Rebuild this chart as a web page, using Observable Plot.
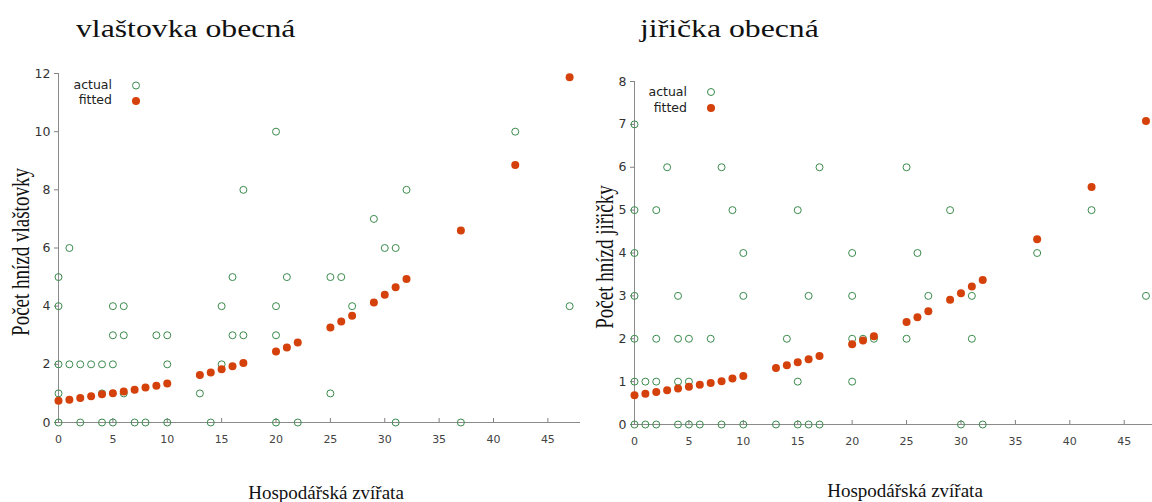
<!DOCTYPE html>
<html>
<head>
<meta charset="utf-8">
<script src="https://cdn.jsdelivr.net/npm/d3@7"></script>
<script src="https://cdn.jsdelivr.net/npm/@observablehq/plot@0.6"></script>
<style>
  html, body { margin: 0; padding: 0; background: #fff; }
  #root { position: relative; width: 1152px; height: 502px; overflow: hidden; background: #fff; }
  .abs { position: absolute; white-space: nowrap; }
  .title { font-family: "Liberation Serif", serif; font-size: 26px; line-height: 26px; color: #111; transform-origin: 0 0; transform: scaleX(1.22); }
  .ylab { font-family: "Liberation Serif", serif; font-size: 19px; line-height: 19px; color: #111; transform: translate(-50%, -50%) rotate(-90deg) scale(1, 1.3); }
  .xlab { font-family: "Liberation Serif", serif; font-size: 19px; line-height: 19px; color: #111; transform: translateX(-50%); }
  .leg { font-family: "DejaVu Sans", sans-serif; font-size: 12.5px; line-height: 12.5px; color: #222; transform: translateX(-100%); }
  .plot { position: absolute; top: 60px; }
  .plot g[aria-label="y-axis tick"], .plot g[aria-label="x-axis tick"] { stroke: #808080; }
  .plot g[aria-label="y-axis tick label"] { fill: #333; font-size: 12.5px; }
  .plot g[aria-label="x-axis tick label"] { fill: #444; font-size: 11px; }
</style>
</head>
<body>
<div id="root"></div>
<script>
// ---- data ----
const xFit = [0,1,2,3,4,5,6,7,8,9,10,13,14,15,16,17,20,21,22,25,26,27,29,30,31,32,37,42,47];
const fitVlastovka = [0.75,0.78,0.84,0.90,0.97,1.01,1.07,1.13,1.20,1.26,1.34,1.63,1.72,1.83,1.93,2.05,2.44,2.58,2.75,3.27,3.47,3.67,4.13,4.39,4.65,4.93,6.60,8.85,11.87];
const fitJiricka = [0.68,0.72,0.76,0.80,0.84,0.88,0.93,0.97,1.01,1.07,1.13,1.32,1.38,1.45,1.52,1.60,1.87,1.96,2.06,2.39,2.50,2.64,2.91,3.06,3.22,3.37,4.32,5.54,7.08];

const actXVlastovka = [0,0,0,0,0, 1,1, 2,2, 3, 4,4,4, 5,5,5,5, 6,6,6, 7, 8, 9, 10,10,10, 13, 14, 15,15, 16,16, 17,17, 20,20,20,20, 21, 22, 25,25, 26, 27, 29, 30, 31,31, 32, 37, 42, 47];
const actYVlastovka = [5,4,2,1,0, 6,2, 2,0, 2, 2,1,0, 4,3,2,0, 4,3,1, 0, 0, 3, 3,2,0, 1, 0, 4,2, 5,3, 8,3, 10,4,3,0, 5, 0, 5,1, 5, 4, 7, 6, 6,0, 8, 0, 10, 4];

const actXJiricka = [0,0,0,0,0,0,0, 1,1, 2,2,2,2, 3, 4,4,4,4, 5,5,5, 6, 7, 8,8, 9, 10,10,10, 13, 14, 15,15,15, 16,16, 17,17, 20,20,20,20, 21, 22, 25,25, 26, 27, 29, 30, 31,31, 32, 37, 42, 47];
const actYJiricka = [7,5,4,3,2,1,0, 1,0, 5,2,1,0, 6, 3,2,1,0, 2,1,0, 0, 2, 6,0, 5, 4,3,0, 0, 2, 5,1,0, 3,0, 6,0, 4,3,2,1, 2, 2, 6,2, 4, 3, 5, 0, 3,2, 0, 4, 5, 3];

const xTicks = [0,5,10,15,20,25,30,35,40,45];
const yTicksVlastovka = [0,2,4,6,8,10,12];
const yTicksJiricka = [0,1,2,3,4,5,6,7,8];

const titles = ["vlaštovka obecná", "jiřička obecná"];
const yLabels = ["Počet hnízd vlaštovky", "Počet hnízd jiřičky"];
const xLabel = "Hospodářská zvířata";
const legendLabels = ["actual", "fitted"];

const actualColor = "#3a8a4c";
const fittedColor = "#d4410a";

// ---- drawing ----
function panel({actX, actY, fitY, yMax, yTicks, width, ml, mr, mt, mb, xMax}) {
  const actual = actX.map((x, i) => ({x, y: actY[i]}));
  const fitted = xFit.map((x, i) => ({x, y: fitY[i]}));
  return Plot.plot({
    width, height: 400,
    marginLeft: ml, marginRight: mr, marginTop: mt, marginBottom: mb,
    x: {domain: [0, xMax]},
    y: {domain: [0, yMax]},
    style: {fontFamily: "DejaVu Sans, sans-serif", fontSize: "12px", background: "transparent", overflow: "visible"},
    marks: [
      Plot.ruleY([0], {stroke: "#8a8a8a"}),
      Plot.ruleX([0], {stroke: "#8a8a8a"}),
      Plot.axisY({ticks: yTicks, tickSize: 4, tickPadding: 4, label: null}),
      Plot.axisX({ticks: xTicks, tickSize: -4, tickPadding: 17, label: null}),
      Plot.dot(actual, {x: "x", y: "y", r: 3.5, stroke: actualColor, strokeWidth: 1, fill: "none"}),
      Plot.dot(fitted, {x: "x", y: "y", r: 4, fill: fittedColor, stroke: "none"})
    ]
  });
}

const root = document.getElementById("root");

const left = panel({actX: actXVlastovka, actY: actYVlastovka, fitY: fitVlastovka, yMax: 12, yTicks: yTicksVlastovka,
  width: 590, ml: 58, mr: 10, mt: 13, mb: 38, xMax: 48});
left.classList.add("plot");
left.style.left = "0px";
root.appendChild(left);

const right = panel({actX: actXJiricka, actY: actYJiricka, fitY: fitJiricka, yMax: 8, yTicks: yTicksJiricka,
  width: 562, ml: 44, mr: 0, mt: 21, mb: 36, xMax: 47.6});
right.classList.add("plot");
right.style.left = "590px";
root.appendChild(right);

function addText(cls, text, leftPx, topPx) {
  const d = document.createElement("div");
  d.className = "abs " + cls;
  d.textContent = text;
  d.style.left = leftPx + "px";
  d.style.top = topPx + "px";
  root.appendChild(d);
  return d;
}

addText("title", titles[0], 76, 16);
addText("title", titles[1], 640, 16);
addText("ylab", yLabels[0], 21, 252);
addText("ylab", yLabels[1], 605, 257);
addText("xlab", xLabel, 326, 483);
addText("xlab", xLabel, 905, 481);

// legends
addText("leg", legendLabels[0], 112, 79);
addText("leg", legendLabels[1], 112, 94);
addText("leg", legendLabels[0], 687, 86);
addText("leg", legendLabels[1], 687, 102);

const ns = "http://www.w3.org/2000/svg";
const legSvg = document.createElementNS(ns, "svg");
legSvg.setAttribute("width", 1152);
legSvg.setAttribute("height", 502);
legSvg.style.position = "absolute";
legSvg.style.left = "0px";
legSvg.style.top = "0px";
legSvg.style.pointerEvents = "none";
[[136, 85.5, 101], [711, 92, 108]].forEach(([cx, cyA, cyF]) => {
  const a = document.createElementNS(ns, "circle");
  a.setAttribute("cx", cx); a.setAttribute("cy", cyA); a.setAttribute("r", 3.5);
  a.setAttribute("fill", "none"); a.setAttribute("stroke", actualColor);
  legSvg.appendChild(a);
  const f = document.createElementNS(ns, "circle");
  f.setAttribute("cx", cx); f.setAttribute("cy", cyF); f.setAttribute("r", 4);
  f.setAttribute("fill", fittedColor);
  legSvg.appendChild(f);
});
root.appendChild(legSvg);
</script>
</body>
</html>
